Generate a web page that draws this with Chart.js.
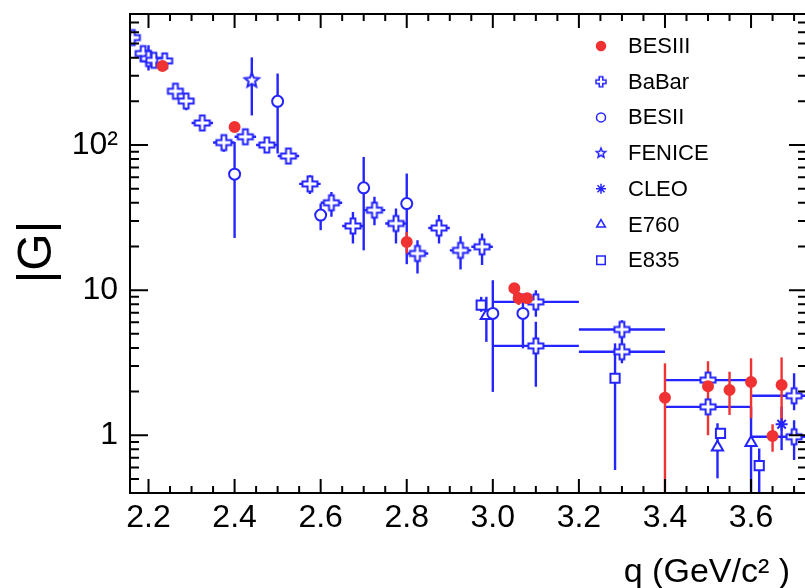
<!DOCTYPE html>
<html>
<head>
<meta charset="utf-8">
<script src="https://cdn.jsdelivr.net/npm/chart.js@4.4.0/dist/chart.umd.min.js"></script>
<style>
  html, body { margin: 0; padding: 0; background: #fff; overflow: hidden; }
  #wrap { width: 812px; height: 588px; }
</style>
</head>
<body>
<div id="wrap"><canvas id="formFactor" width="812" height="588"></canvas></div>
<script>
// rows: [q, |G|, lower end of error bar, upper end of error bar, half width in q]
const besiiiRows = [
  [2.2324, 351, 336, 367, 0],
  [2.4, 133, 127, 139, 0],
  [2.8, 21.5, 17.9, 25.2, 0],
  [3.05, 10.3, 9.0, 11.1, 0],
  [3.06, 8.8, 7.9, 9.7, 0],
  [3.08, 8.8, 8.1, 9.4, 0],
  [3.4, 1.81, 0.2, 3.13, 0],
  [3.5, 2.18, 1.0, 3.24, 0],
  [3.55, 2.05, 1.38, 2.74, 0],
  [3.6, 2.33, 1.31, 3.39, 0],
  [3.65, 0.99, 0.77, 1.19, 0],
  [3.671, 2.22, 1.24, 3.44, 0]
];
const babarRows = [
  [2.1625, 550, 515, 585, 0.0125],
  [2.1875, 427, 390, 470, 0.0125],
  [2.2, 394, 327, 487, 0.0125],
  [2.2125, 384, 355, 415, 0.0125],
  [2.2375, 380, 355, 405, 0.0125],
  [2.2625, 235, 209, 258, 0.0125],
  [2.2875, 201, 174, 220, 0.0125],
  [2.325, 142, 126, 156, 0.025],
  [2.375, 104, 90, 117, 0.025],
  [2.425, 114, 102, 123, 0.025],
  [2.475, 100, 90, 110, 0.025],
  [2.525, 84, 76, 92, 0.025],
  [2.575, 54, 46, 62, 0.025],
  [2.625, 40, 32, 47.5, 0.025],
  [2.675, 27.7, 21, 34.6, 0.025],
  [2.725, 35.6, 28, 44, 0.025],
  [2.775, 28.8, 21, 36.5, 0.025],
  [2.825, 17.9, 13, 22.1, 0.025],
  [2.875, 26.8, 21, 32.9, 0.025],
  [2.925, 18.8, 13.9, 23.5, 0.025],
  [2.975, 19.9, 14.9, 24.6, 0.025],
  [3.1, 8.3, 6.55, 10.0, 0.1],
  [3.1, 4.13, 2.16, 6.05, 0.1],
  [3.3, 5.36, 4.66, 6.21, 0.1],
  [3.3, 3.76, 3.13, 4.9, 0.1],
  [3.5, 2.40, 2.2, 2.6, 0.1],
  [3.5, 1.57, 1.45, 1.7, 0.1],
  [3.7, 1.87, 1.49, 2.67, 0.1],
  [3.7, 0.976, 0.675, 1.27, 0.1]
];
const besiiRows = [
  [2.4, 63, 22.9, 105, 0],
  [2.5, 200, 87.4, 311, 0],
  [2.6, 32.9, 25.9, 39.5, 0],
  [2.7, 50.7, 18.8, 82.8, 0],
  [2.8, 39.5, 15.1, 63.6, 0],
  [3.0, 6.91, 1.99, 11.7, 0],
  [3.07, 6.91, 3.97, 9.49, 0]
];
const feniceRows = [
  [2.44, 279, 160, 402, 0]
];
const cleoRows = [
  [3.671, 1.19, 0.79, 1.57, 0]
];
const e760Rows = [
  [2.985, 6.65, 4.4, 9.0, 0],
  [3.522, 0.826, 0.505, 1.21, 0],
  [3.6, 0.888, 0.2, 1.57, 0]
];
const e835Rows = [
  [2.973, 7.88, 7.09, 8.99, 0],
  [3.284, 2.47, 0.576, 4.3, 0],
  [3.529, 1.03, 0.96, 1.12, 0],
  [3.619, 0.617, 0.2, 0.81, 0]
];

const qTicks = [2.2, 2.4, 2.6, 2.8, 3.0, 3.2, 3.4, 3.6];
const gTicks = [1, 10, 100];
const gTickLabels = ['1', '10', '10²'];

const BLUE = '#2424ff';
const RED = '#f03232';
const FONT = '"Liberation Sans", Arial, Helvetica, sans-serif';

// open cross and open star markers drawn once into small canvases
function plusPath(g, cx, cy, L, a) {
  const p = [[-a,-L],[a,-L],[a,-a],[L,-a],[L,a],[a,a],[a,L],[-a,L],[-a,a],[-L,a],[-L,-a],[-a,-a]];
  g.beginPath();
  p.forEach(([dx, dy], i) => i ? g.lineTo(cx + dx, cy + dy) : g.moveTo(cx + dx, cy + dy));
  g.closePath();
}
function starPath(g, cx, cy, R) {
  g.beginPath();
  for (let i = 0; i < 10; i++) {
    const r = i % 2 ? R * 0.45 : R;
    const t = -Math.PI / 2 + i * Math.PI / 5;
    const px = cx + r * Math.cos(t), py = cy + r * Math.sin(t);
    i ? g.lineTo(px, py) : g.moveTo(px, py);
  }
  g.closePath();
}
function marker(size, lw, path) {
  const c = document.createElement('canvas');
  c.width = c.height = size;
  const g = c.getContext('2d');
  path(g, size / 2, size / 2);
  g.fillStyle = '#fff';
  g.fill();
  g.lineWidth = lw;
  g.strokeStyle = BLUE;
  g.stroke();
  return c;
}
const babarMark = marker(20, 2, (g, cx, cy) => plusPath(g, cx, cy, 7.5, 2.4));
const babarLegend = marker(14, 1.5, (g, cx, cy) => plusPath(g, cx, cy, 5, 1.8));
const feniceMark = marker(20, 2, (g, cx, cy) => starPath(g, cx, cy, 7.5));
const feniceLegend = marker(14, 1.5, (g, cx, cy) => starPath(g, cx, cy, 5));

function pts(rows) {
  return rows.map(r => ({ x: r[0], y: r[1] }));
}

const errorBars = {
  id: 'errorBars',
  beforeDatasetsDraw(chart) {
    const { ctx, chartArea: a, scales: { x, y } } = chart;
    ctx.save();
    ctx.beginPath();
    ctx.rect(a.left, a.top, a.right - a.left, a.bottom - a.top);
    ctx.clip();
    ctx.lineWidth = 2.4;
    const sets = chart.data.datasets.slice().reverse();
    sets.forEach(ds => {
      ctx.strokeStyle = ds.errorColor;
      ds.rows.forEach(r => {
        const px = x.getPixelForValue(r[0]);
        const py = y.getPixelForValue(r[1]);
        ctx.beginPath();
        ctx.moveTo(px, y.getPixelForValue(r[2]));
        ctx.lineTo(px, y.getPixelForValue(r[3]));
        if (r[4]) {
          ctx.moveTo(x.getPixelForValue(r[0] - r[4]), py);
          ctx.lineTo(x.getPixelForValue(r[0] + r[4]), py);
        }
        ctx.stroke();
      });
    });
    ctx.restore();
  }
};

// ROOT style frame with inward ticks on all four sides
const frame = {
  id: 'frame',
  afterDraw(chart) {
    const { ctx, chartArea: a, scales: { x, y } } = chart;
    ctx.save();
    ctx.strokeStyle = '#000';
    ctx.lineWidth = 2;
    ctx.strokeRect(a.left, a.top, a.right - a.left, a.bottom - a.top);
    ctx.beginPath();
    for (let i = 0; i <= 32; i++) {
      const v = 2.15 + i * 0.05;
      if (v < x.min || v > x.max) continue;
      const px = x.getPixelForValue(v);
      const len = Math.abs(v * 5 - Math.round(v * 5)) < 1e-6 ? 14 : 7;
      ctx.moveTo(px, a.bottom); ctx.lineTo(px, a.bottom - len);
      ctx.moveTo(px, a.top); ctx.lineTo(px, a.top + len);
    }
    for (let d = 0.1; d <= 100; d *= 10) {
      for (let m = 1; m <= 9; m++) {
        const v = d * m;
        if (v < y.min || v > y.max) continue;
        const py = y.getPixelForValue(v);
        const len = m === 1 ? 18 : 9;
        ctx.moveTo(a.left, py); ctx.lineTo(a.left + len, py);
        ctx.moveTo(a.right, py); ctx.lineTo(a.right - len, py);
      }
    }
    ctx.stroke();

    // axis titles
    ctx.fillStyle = '#000';
    ctx.font = '34px ' + FONT;
    ctx.textAlign = 'right';
    ctx.textBaseline = 'alphabetic';
    ctx.fillText('q (GeV/c² )', 790, 582);
    ctx.translate(38, 252);
    ctx.rotate(-Math.PI / 2);
    ctx.font = '48px ' + FONT;
    ctx.textAlign = 'center';
    ctx.textBaseline = 'middle';
    ctx.fillText('|G|', 0, 0);
    ctx.restore();
  }
};

const legendBox = {
  id: 'legendBox',
  afterDraw(chart) {
    const { ctx } = chart;
    ctx.save();
    chart.data.datasets.forEach((ds, i) => {
      const cy = 46 + i * 35.7;
      ctx.fillStyle = ds.pointBackgroundColor;
      ctx.strokeStyle = ds.pointBorderColor;
      ctx.lineWidth = 1.5;
      Chart.helpers.drawPoint(ctx, {
        pointStyle: ds.legendStyle || ds.pointStyle,
        radius: ds.legendRadius,
        borderWidth: 1.5,
        rotation: 0
      }, 601, cy);
      ctx.fillStyle = '#000';
      ctx.font = '22px ' + FONT;
      ctx.textAlign = 'left';
      ctx.textBaseline = 'middle';
      ctx.fillText(ds.label, 628, cy + 1);
    });
    ctx.restore();
  }
};

function set(label, rows, style, radius, fill, errorColor, extra) {
  return Object.assign({
    label: label,
    rows: rows,
    data: pts(rows),
    pointStyle: style,
    pointRadius: radius,
    pointBackgroundColor: fill,
    pointBorderColor: errorColor === RED ? RED : BLUE,
    pointBorderWidth: 2,
    errorColor: errorColor,
    showLine: false
  }, extra || {});
}

function noEdgePadding(s) {
  s.paddingTop = 0;
  s.paddingBottom = 0;
  s.paddingLeft = 0;
  s.paddingRight = 0;
}

new Chart(document.getElementById('formFactor'), {
  type: 'scatter',
  data: {
    datasets: [
      set('BESIII', besiiiRows, 'circle', 5, RED, RED, { legendRadius: 4.5 }),
      set('BaBar', babarRows, babarMark, 10, BLUE, BLUE, { legendStyle: babarLegend, legendRadius: 7 }),
      set('BESII', besiiRows, 'circle', 5.5, '#fff', BLUE, { legendRadius: 4.5 }),
      set('FENICE', feniceRows, feniceMark, 10, BLUE, BLUE, { legendStyle: feniceLegend, legendRadius: 7 }),
      set('CLEO', cleoRows, 'star', 6, BLUE, BLUE, { legendRadius: 5 }),
      set('E760', e760Rows, 'triangle', 6.5, '#fff', BLUE, { legendRadius: 5 }),
      set('E835', e835Rows, 'rect', 6.5, '#fff', BLUE, { legendRadius: 6 })
    ]
  },
  options: {
    responsive: false,
    animation: false,
    events: [],
    layout: { autoPadding: false, padding: { top: 14, right: 5, left: 0, bottom: 0 } },
    plugins: { legend: { display: false }, tooltip: { enabled: false } },
    scales: {
      x: {
        type: 'linear',
        min: 2.157,
        max: 3.73,
        afterBuildTicks: s => { s.ticks = qTicks.map(v => ({ value: v })); },
        afterFit: s => { s.height = 95; noEdgePadding(s); },
        grid: { display: false, drawTicks: false },
        border: { display: false },
        ticks: {
          color: '#000',
          font: { family: FONT, size: 32 },
          padding: 6,
          maxRotation: 0,
          callback: v => v.toFixed(1)
        }
      },
      y: {
        type: 'logarithmic',
        min: 0.4,
        max: 800,
        afterBuildTicks: s => { s.ticks = gTicks.map(v => ({ value: v, major: true })); },
        afterFit: s => { s.width = 130; noEdgePadding(s); },
        grid: { display: false, drawTicks: false },
        border: { display: false },
        ticks: {
          color: '#000',
          font: { family: FONT, size: 32 },
          padding: 12,
          callback: v => gTickLabels[gTicks.indexOf(v)]
        }
      }
    }
  },
  plugins: [errorBars, frame, legendBox]
});
</script>
</body>
</html>
